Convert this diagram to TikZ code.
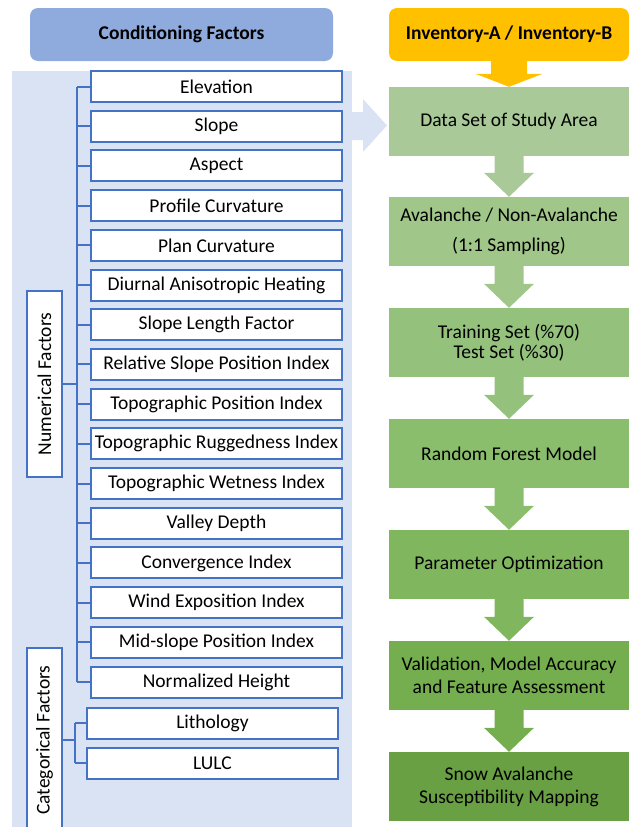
\documentclass[tikz,border=0pt]{standalone}
\usepackage{fontspec}
\setmainfont{Carlito}
\usetikzlibrary{calc}
\definecolor{panel}{HTML}{DAE3F3}
\definecolor{lineblue}{HTML}{4472C4}
\definecolor{hdrblue}{HTML}{8FAADC}
\definecolor{hdryellow}{HTML}{FFC000}
\definecolor{gA}{HTML}{A9CA98}
\definecolor{gB}{HTML}{A0C689}
\definecolor{gC}{HTML}{94C27D}
\definecolor{gD}{HTML}{8BBE6C}
\definecolor{gE}{HTML}{80B75E}
\definecolor{gF}{HTML}{74AE4E}
\definecolor{gG}{HTML}{68A043}
\newcommand{\garrow}[3]{\fill[#3] ([xshift=-14.5pt]#1.south) -- ([xshift=14.5pt]#1.south) -- ([xshift=14.5pt,yshift=24pt]#2.north) -- ([xshift=25pt,yshift=24pt]#2.north) -- (#2.north) -- ([xshift=-25pt,yshift=24pt]#2.north) -- ([xshift=-14.5pt,yshift=24pt]#2.north) -- cycle;}
\begin{document}
\begin{tikzpicture}[x=1pt,y=-1pt,
  txt/.style={font=\fontsize{19.5}{20}\selectfont},
  fbox/.style={txt,draw=lineblue,line width=2pt,fill=white,minimum width=251pt,minimum height=31pt,inner sep=0pt},
  lbl/.style={txt,draw=lineblue,line width=2pt,fill=white,minimum height=35pt,inner sep=0pt,rotate=90},
  gbox/.style={txt,minimum width=240pt,minimum height=69pt,inner sep=0pt,align=center},
  hdr/.style={font=\fontsize{19.5}{20}\selectfont\bfseries,rounded corners=8pt,minimum height=53pt,inner sep=0pt},
  conn/.style={draw=lineblue,line width=2pt}]
\useasboundingbox (0,0) rectangle (634,827);
% panel and panel arrow
\fill[panel] (12,71) rectangle (352,827);
\fill[panel] (351,112) -- (363,112) -- (363,99) -- (387,125.5) -- (363,152) -- (363,140) -- (351,140) -- cycle;
% headers
\node[hdr,fill=hdrblue,minimum width=303pt] (hcf) at (181.5,34.5) {Conditioning Factors};
\node[hdr,fill=hdryellow,minimum width=240pt] (hinv) at (509,34.5) {Inventory-A / Inventory-B};
% numerical factor boxes
\foreach \t [count=\i] in {Elevation,Slope,Aspect,Profile Curvature,Plan Curvature,Diurnal Anisotropic Heating,Slope Length Factor,Relative Slope Position Index,Topographic Position Index,Topographic Ruggedness Index,Topographic Wetness Index,Valley Depth,Convergence Index,Wind Exposition Index,Mid-slope Position Index,Normalized Height}
  \node[fbox] (n\i) at (216.5,{86.5+39.7*(\i-1)}) {\t};
\coordinate (vn) at (77,86.5);
\draw[conn] (n1.west -| vn) -- (n16.west -| vn);
\foreach \i in {1,...,16} \draw[conn] (n\i.west) -- (n\i.west -| vn);
\node[lbl,minimum width=186pt] (num) at (44.5,384) {Numerical Factors};
\draw[conn] (num.south) -- (num.south -| vn);
% categorical
\node[fbox] (c1) at (212.5,723) {Lithology};
\node[fbox] (c2) at (212.5,763) {LULC};
\coordinate (vc) at (75,723);
\draw[conn] (c1.west -| vc) -- (c2.west -| vc);
\draw[conn] (c1.west) -- (c1.west -| vc);
\draw[conn] (c2.west) -- (c2.west -| vc);
\node[lbl,minimum width=184pt] (cat) at (44.5,740) {Categorical Factors};
\draw[conn] (cat.south) -- (cat.south -| vc);
% right column
\node[gbox,fill=gA] (s1) at (509,121.5) {Data Set of Study Area};
\node[gbox,fill=gB] (s2) at (509,231.5) {Avalanche / Non-Avalanche\\[10pt](1:1 Sampling)};
\node[gbox,fill=gC] (s3) at (509,342.5) {Training Set (\%70)\\Test Set (\%30)};
\node[gbox,fill=gD] (s4) at (509,453.5) {Random Forest Model};
\node[gbox,fill=gE] (s5) at (509,564.5) {Parameter Optimization};
\node[gbox,fill=gF] (s6) at (509,675.5) {Validation, Model Accuracy\\[3pt]and Feature Assessment};
\node[gbox,fill=gG] (s7) at (509,786.5) {Snow Avalanche\\[3pt]Susceptibility Mapping};
% yellow arrow
\fill[hdryellow] ([xshift=-18pt]hinv.south) -- ([xshift=18pt]hinv.south) -- ([xshift=18pt,yshift=13pt]s1.north) -- ([xshift=33.5pt,yshift=13pt]s1.north) -- (s1.north) -- ([xshift=-33.5pt,yshift=13pt]s1.north) -- ([xshift=-18pt,yshift=13pt]s1.north) -- cycle;
\garrow{s1}{s2}{gA}
\garrow{s2}{s3}{gB}
\garrow{s3}{s4}{gC}
\garrow{s4}{s5}{gD}
\garrow{s5}{s6}{gE}
\garrow{s6}{s7}{gF}
\end{tikzpicture}
\end{document}
